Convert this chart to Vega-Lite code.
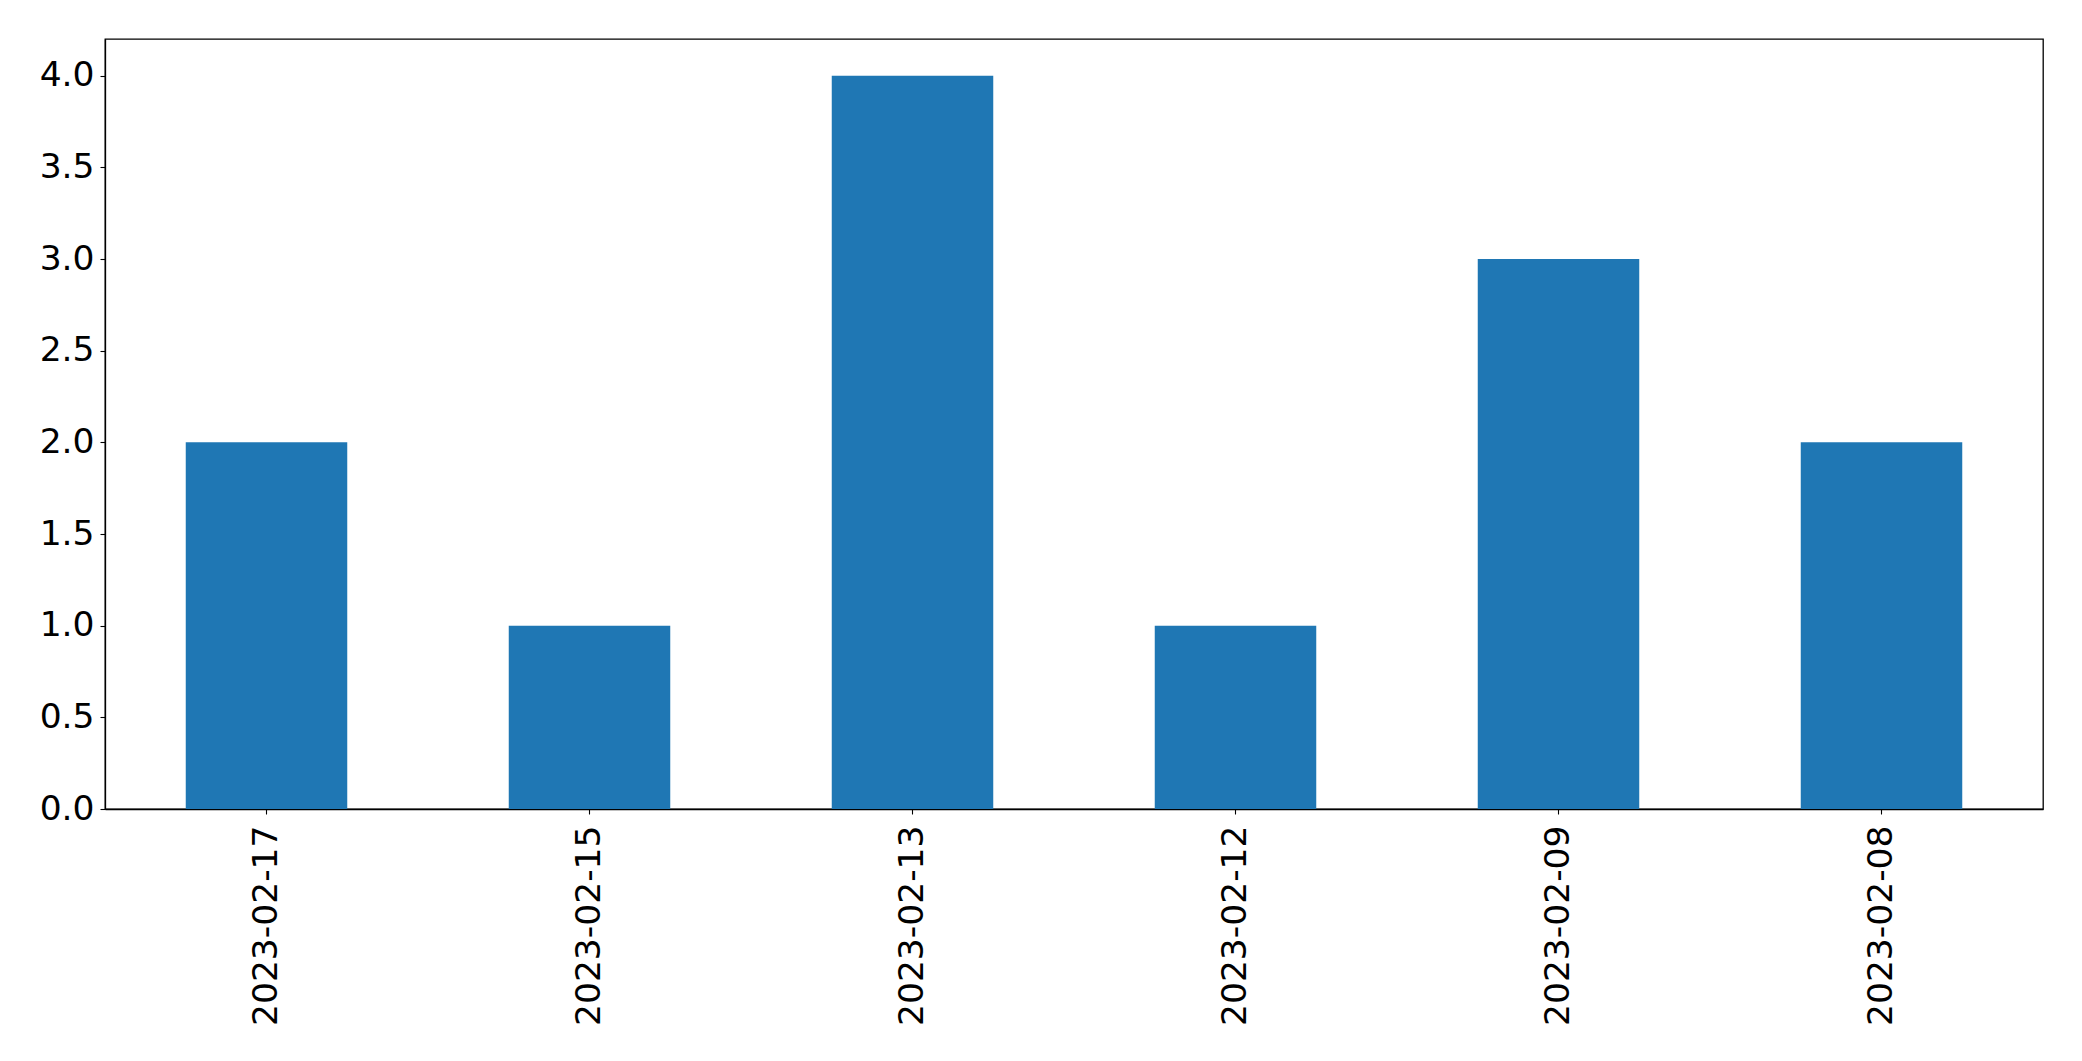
{
  "$schema": "https://vega.github.io/schema/vega-lite/v6.json",
  "autosize": "none",
  "padding": {"left": 105, "top": 39, "right": 39, "bottom": 252},
  "width": 1938,
  "height": 770,
  "background": "white",
  "config": {
    "font": "DejaVu Sans",
    "view": {"stroke": "black", "strokeWidth": 1.3},
    "axis": {
      "grid": false,
      "domainColor": "black",
      "domainWidth": 1.3,
      "tickColor": "black",
      "tickWidth": 1.1,
      "tickSize": 5,
      "labelPadding": 6,
      "labelFontSize": 34.5,
      "labelLimit": 0,
      "labelColor": "black",
      "labelFont": "DejaVu Sans",
      "title": null
    }
  },
  "data": {
    "values": [
      {"date": "2023-02-17", "count": 2},
      {"date": "2023-02-15", "count": 1},
      {"date": "2023-02-13", "count": 4},
      {"date": "2023-02-12", "count": 1},
      {"date": "2023-02-09", "count": 3},
      {"date": "2023-02-08", "count": 2}
    ]
  },
  "mark": {"type": "bar", "color": "#1f77b4"},
  "encoding": {
    "x": {
      "field": "date",
      "type": "nominal",
      "sort": null,
      "scale": {"paddingInner": 0.5, "paddingOuter": 0.25},
      "axis": {"labelAngle": 270, "labelAlign": "right", "labelBaseline": "middle", "labelPadding": 11}
    },
    "y": {
      "field": "count",
      "type": "quantitative",
      "scale": {"domain": [0, 4.2], "nice": false},
      "axis": {"values": [0, 0.5, 1, 1.5, 2, 2.5, 3, 3.5, 4], "format": ".1f"}
    }
  }
}
